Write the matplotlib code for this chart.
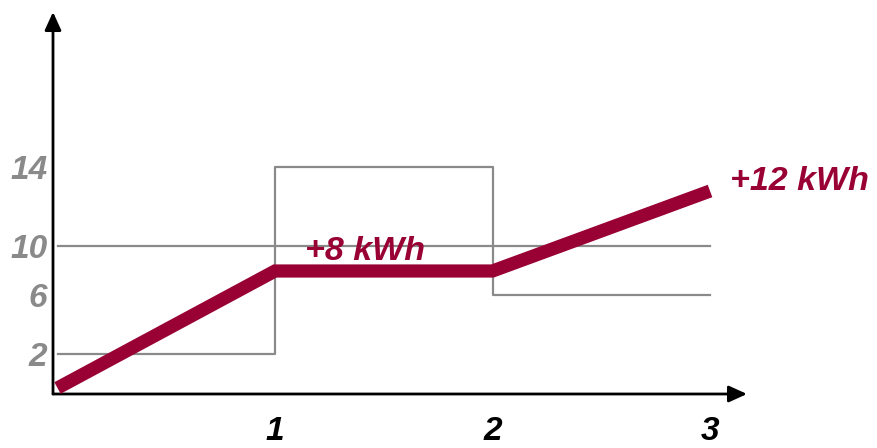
import numpy as np
import matplotlib
matplotlib.use('Agg')
from matplotlib import pyplot as plt

# hours
hours = [0, 1, 2, 3]
# load profile (kW), flat grid limit (kW)
load = [2, 14, 6, 6]
grid_limit = [10, 10]
# stored energy (kWh)
energy = [0, 8, 8, 12]
y_ticks = [2, 6, 10, 14]
x_ticks = [1, 2, 3]

red = '#990033'
gray = '#8a8a8a'
plt.rcParams['font.family'] = ['Liberation Sans', 'DejaVu Sans']


def warp(vals, pos):
    # piecewise linear scale, schematic spacing of the sketch
    fwd = lambda v: np.interp(v, vals, pos)
    inv = lambda p: np.interp(p, pos, vals)
    return fwd, inv


fig = plt.figure(figsize=(8.78, 4.48), dpi=100)
ax = fig.add_axes([53 / 878, 54 / 448, 694 / 878, 382 / 448])
ax2 = ax.twinx()

ax.set_yscale('function', functions=warp([-0.4, 2, 6, 10, 14, 20],
                                         [54, 94, 153, 202, 281, 436]))
ax.set_ylim(-0.4, 20)
ax2.set_yscale('function', functions=warp([-0.41, 0, 8, 12, 20.5],
                                          [54, 60, 177, 257, 436]))
ax2.set_ylim(-0.41, 20.5)
ax.set_xlim(-0.0207, 3.17)

# load steps and grid limit
ax.step(hours, load, where='post', color=gray, lw=1.6)
ax.plot([0, 3], grid_limit, color=gray, lw=1.6)

# stored energy
ax2.plot(hours, energy, color=red, lw=9.5, solid_capstyle='butt',
         solid_joinstyle='miter')
ax2.annotate('+8 kWh', (hours[1], energy[1]), xytext=(21.5, 8),
             textcoords='offset points', va='baseline', ha='left',
             color=red, fontsize=24.5, fontweight='bold', fontstyle='italic')
ax2.annotate('+12 kWh', (hours[3], energy[3]), xytext=(14.5, 0.5),
             textcoords='offset points', va='baseline', ha='left',
             color=red, fontsize=24.5, fontweight='bold', fontstyle='italic',
             annotation_clip=False)

ax.set_yticks(y_ticks)
ax.set_yticklabels([str(t) for t in y_ticks], color=gray, fontsize=24,
                   fontweight='bold', fontstyle='italic')
ax.set_xticks(x_ticks)
ax.set_xticklabels([str(t) for t in x_ticks], color='black', fontsize=24,
                   fontweight='bold', fontstyle='italic')
ax.tick_params(axis='y', length=0, pad=4)
ax.tick_params(axis='x', length=0, pad=16)
ax2.set_yticks([])

for a in (ax, ax2):
    for s in a.spines.values():
        s.set_visible(False)

# axes with arrow heads
arrow = dict(arrowstyle='-|>,head_length=0.55,head_width=0.25', lw=2,
             color='black', shrinkA=0, shrinkB=0, mutation_scale=20)
ax.annotate('', xy=(0, 1), xytext=(0, 0), xycoords='axes fraction',
            arrowprops=arrow)
ax.annotate('', xy=(1, 0), xytext=(0, 0), xycoords='axes fraction',
            arrowprops=arrow)

fig.savefig('out.png', dpi=100)
